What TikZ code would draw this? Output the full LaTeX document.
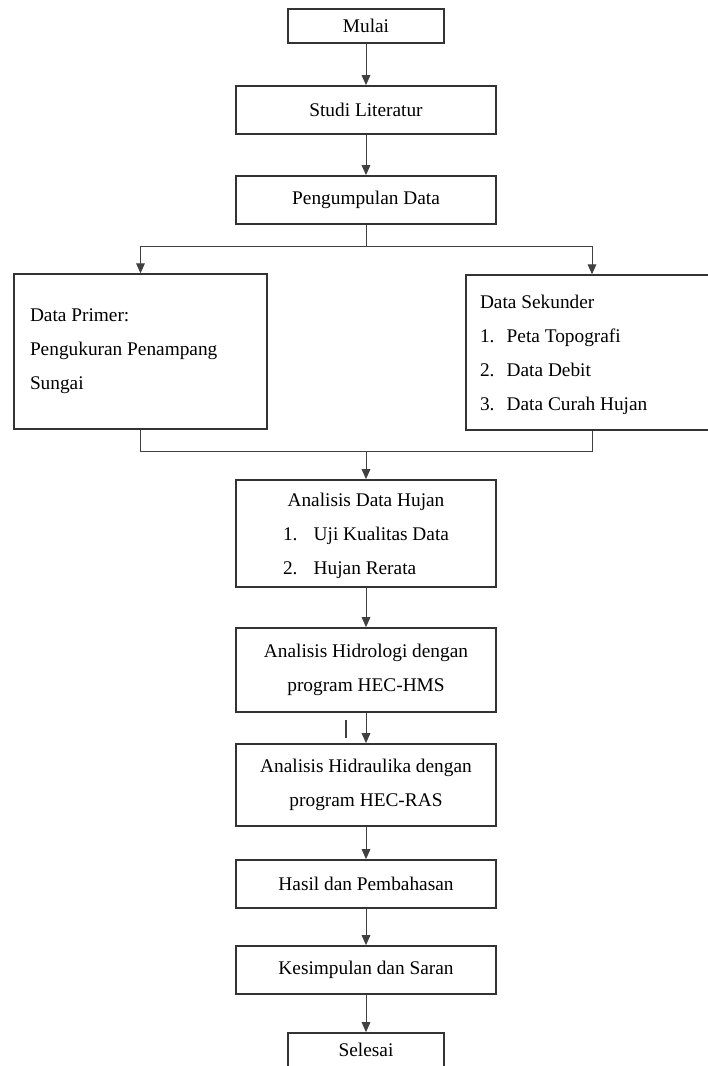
\documentclass[tikz,border=0pt]{standalone}
\usepackage{fontspec}
\setmainfont{Liberation Serif}
\usetikzlibrary{arrows.meta}

\begin{document}
\begin{tikzpicture}[x=0.75pt,y=-0.75pt,
    box/.style={draw=black!80,line width=1.3pt,rectangle,inner sep=0pt,align=center,
      minimum width=195pt,minimum height=36pt,font=\fontsize{14.5}{25.5}\selectfont,
      execute at begin node={\spaceskip=0pt\relax}},
    endbox/.style={box,minimum width=117pt,minimum height=25.5pt},
    sidebox/.style={box,minimum width=0pt,minimum height=116pt,align=left},
    flow/.style={draw=black!75,line width=0.75pt},
    >={Triangle[length=7.5pt,width=6.5pt]}]
    \useasboundingbox (0,0) rectangle (707,1066);
    % main column
    \node[endbox] (mulai) at (366,26) {Mulai};
    \node[box] (studi) at (366,110) {Studi Literatur};
    \node[box] (kumpul) at (366,200) {Pengumpulan Data};
    % two kinds of data
    \node[sidebox,text width=165.75pt,inner xsep=12pt] (primer) at (140.5,351.5)
        {Data Primer:\\Pengukuran Penampang\\Sungai};
    \node[sidebox,text width=168pt,inner xsep=10.5pt] (sekunder) at (592,352.5)
        {\begin{tabular}{@{}p{20pt}@{}l@{}}
         \multicolumn{2}{@{}l@{}}{Data Sekunder}\\
         1.&Peta Topografi\\
         2.&Data Debit\\
         3.&Data Curah Hujan
         \end{tabular}};
    \node[box,minimum height=80.25pt] (hujan) at (366,533.5)
        {\begin{tabular}{@{}p{23pt}@{}l@{}}
         \multicolumn{2}{@{}c@{}}{Analisis Data Hujan}\\
         1.&Uji Kualitas Data\\
         2.&Hujan Rerata
         \end{tabular}};
    \node[box,minimum height=63pt] (hms) at (366,670)
        {Analisis Hidrologi dengan\\program HEC-HMS};
    \node[box,minimum height=61.5pt] (ras) at (366,785)
        {Analisis Hidraulika dengan\\program HEC-RAS};
    \node[box] (hasil) at (366,884) {Hasil dan Pembahasan};
    \node[box] (simpul) at (366,970) {Kesimpulan dan Saran};
    \node[endbox] (selesai) at (366,1050) {Selesai};
    \coordinate (pisah) at (366,246);
    \coordinate (gabung) at (366,451);
    % connectors
    \draw[flow,->] (mulai) -- (studi);
    \draw[flow,->] (studi) -- (kumpul);
    \draw[flow] (kumpul) -- (pisah);
    \draw[flow,->] (pisah) -| (primer);
    \draw[flow,->] (pisah) -| (sekunder);
    \draw[flow] (primer) |- (gabung);
    \draw[flow] (sekunder) |- (gabung);
    \draw[flow,->] (gabung) -- (hujan);
    \draw[flow,->] (hujan) -- (hms);
    \draw[flow,->] (hms) -- (ras);
    \draw[flow,->] (ras) -- (hasil);
    \draw[flow,->] (hasil) -- (simpul);
    \draw[flow,->] (simpul) -- (selesai);
    %stray stroke
    \draw[flow,line width=1pt] (346,720) -- (346,738);
\end{tikzpicture}
\end{document}
